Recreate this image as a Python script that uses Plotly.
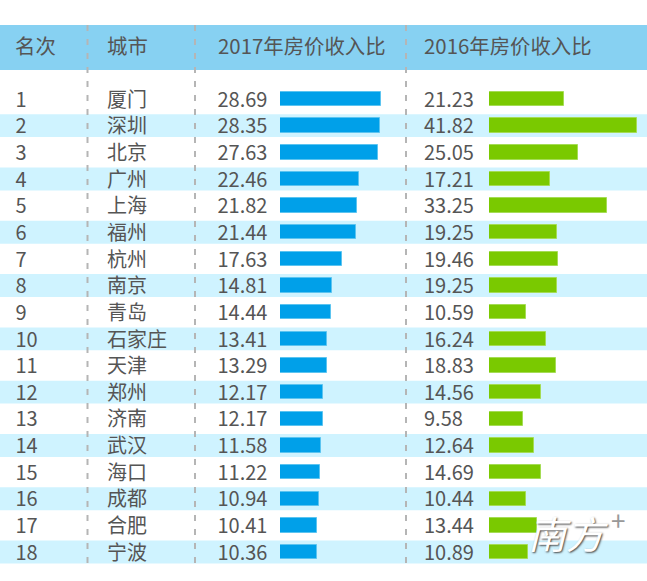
import plotly.graph_objects as go

ranks = list(range(1, 19))
cities = ["厦门", "深圳", "北京", "广州", "上海", "福州", "杭州", "南京", "青岛",
          "石家庄", "天津", "郑州", "济南", "武汉", "海口", "成都", "合肥", "宁波"]
ratio_2017 = [28.69, 28.35, 27.63, 22.46, 21.82, 21.44, 17.63, 14.81, 14.44,
              13.41, 13.29, 12.17, 12.17, 11.58, 11.22, 10.94, 10.41, 10.36]
ratio_2016 = [21.23, 41.82, 25.05, 17.21, 33.25, 19.25, 19.46, 19.25, 10.59,
              16.24, 18.83, 14.56, 9.58, 12.64, 14.69, 10.44, 13.44, 10.89]
headers = ["名次", "城市", "2017年房价收入比", "2016年房价收入比"]

W, H = 647, 581
FONT = "Noto Sans CJK SC"
TEXT_COLOR = "#555555"
ROW_H = 26.65
FIRST_ROW_Y = 99
COL_X = [15.5, 107, 217.5, 424]
HEADER_X = [13, 105, 216, 422]
TEXT_NUDGE = 0.1  # text sits a little low in the row, as in the source


def px_x(x):
    return x / W


def px_y(y):
    return 1 - y / H


fig = go.Figure()

# bars, each on its own x axis so the pixels per unit come from the axis
fig.add_trace(go.Bar(x=ratio_2017, y=ranks, orientation="h", xaxis="x", yaxis="y",
                     width=0.54, marker=dict(color="#00a0e9", line=dict(color="#5cc4f0", width=1))))
fig.add_trace(go.Bar(x=ratio_2016, y=ranks, orientation="h", xaxis="x2", yaxis="y",
                     width=0.54, marker=dict(color="#7ac900", line=dict(color="#a5dc55", width=1))))

# table text goes on a third x axis that runs over the whole width
columns = [[str(r) for r in ranks], cities,
           [f"{v:.2f}" for v in ratio_2017], [f"{v:.2f}" for v in ratio_2016]]
for x, col in zip(COL_X, columns):
    fig.add_trace(go.Scatter(x=[x] * len(col), y=[r + TEXT_NUDGE for r in ranks], text=col,
                             mode="text", textposition="middle right", xaxis="x3", yaxis="y",
                             textfont=dict(family=FONT, size=20, color=TEXT_COLOR),
                             hoverinfo="skip"))

shapes = []
# header band
shapes.append(dict(type="rect", xref="paper", yref="paper", x0=0, x1=1,
                   y0=px_y(70), y1=px_y(25), fillcolor="#87d1f2",
                   line=dict(width=0), layer="below"))
# stripes on the even rows
for r in ranks:
    if r % 2 == 0:
        shapes.append(dict(type="rect", xref="paper", yref="y", x0=0, x1=1,
                           y0=r - 0.43, y1=r + 0.43, fillcolor="#cff3ff",
                           line=dict(width=0), layer="below"))
# dashed column separators
for x in [87.5, 195, 406]:
    shapes.append(dict(type="line", xref="paper", yref="paper", x0=px_x(x), x1=px_x(x),
                       y0=px_y(563), y1=px_y(25),
                       line=dict(color="#b5b5b5", width=2, dash="6px,8px"), layer="above"))

annotations = []
for x, h in zip(HEADER_X, headers):
    annotations.append(dict(x=px_x(x), y=px_y(45), xref="paper", yref="paper", text=h,
                            showarrow=False, xanchor="left", yanchor="middle",
                            font=dict(family=FONT, size=20.4, color=TEXT_COLOR)))

# watermark
annotations.append(dict(x=px_x(568), y=px_y(532), xref="paper", yref="paper", text="<i>南方</i>",
                        showarrow=False, xanchor="center", yanchor="middle",
                        font=dict(family=FONT, size=38, color="white",
                                  shadow="1px 1px 2px #444444")))
annotations.append(dict(x=px_x(618), y=px_y(519), xref="paper", yref="paper", text="+",
                        showarrow=False, xanchor="center", yanchor="middle",
                        font=dict(family=FONT, size=26, color="#999999")))

fig.update_layout(
    width=W, height=H, margin=dict(l=0, r=0, t=0, b=0), autosize=False,
    paper_bgcolor="white", plot_bgcolor="rgba(0,0,0,0)",
    showlegend=False, bargap=0, barmode="overlay",
    shapes=shapes, annotations=annotations,
    xaxis=dict(domain=[px_x(280), px_x(400)], range=[0, 120 / 3.53], visible=False),
    xaxis2=dict(domain=[px_x(489), 1], range=[0, 158 / 3.54], visible=False, anchor="y"),
    xaxis3=dict(domain=[0, 1], range=[0, W], visible=False, anchor="y"),
    yaxis=dict(domain=[0, 1], visible=False,
               range=[1 + (H - FIRST_ROW_Y) / ROW_H, 1 - FIRST_ROW_Y / ROW_H]),
)

# the page's default body margin would push the chart 8px in
fig.write_html("out.html", config={"displayModeBar": False},
               post_script="document.body.style.margin = '0';")
